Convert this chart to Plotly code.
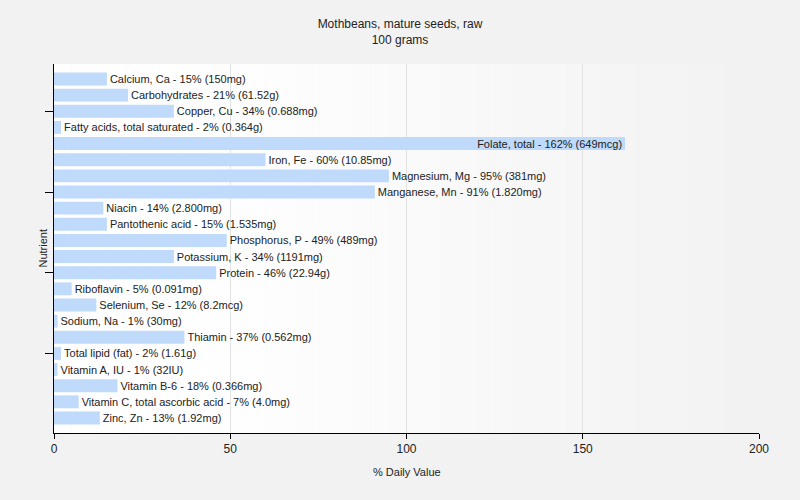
import plotly.graph_objects as go

nutrients = ["Calcium, Ca", "Carbohydrates", "Copper, Cu", "Fatty acids, total saturated",
             "Folate, total", "Iron, Fe", "Magnesium, Mg", "Manganese, Mn", "Niacin",
             "Pantothenic acid", "Phosphorus, P", "Potassium, K", "Protein", "Riboflavin",
             "Selenium, Se", "Sodium, Na", "Thiamin", "Total lipid (fat)", "Vitamin A, IU",
             "Vitamin B-6", "Vitamin C, total ascorbic acid", "Zinc, Zn"]
daily_pct = [15, 21, 34, 2, 162, 60, 95, 91, 14, 15, 49, 34, 46, 5, 12, 1, 37, 2, 1, 18, 7, 13]
amounts = ["150mg", "61.52g", "0.688mg", "0.364g", "649mcg", "10.85mg", "381mg", "1.820mg",
           "2.800mg", "1.535mg", "489mg", "1191mg", "22.94g", "0.091mg", "8.2mcg", "30mg",
           "0.562mg", "1.61g", "32IU", "0.366mg", "4.0mg", "1.92mg"]
x_ticks = [0, 50, 100, 150, 200]

labels = [f"{n} - {v}% ({a})" for n, v, a in zip(nutrients, daily_pct, amounts)]
positions = ["inside" if v > 150 else "outside" for v in daily_pct]

fig = go.Figure(go.Bar(
    y=nutrients, x=daily_pct, orientation="h",
    marker=dict(color="#bfdafb", line=dict(width=0)),
    width=0.8,
    text=labels, textposition=positions, insidetextanchor="end",
    textfont=dict(family="Liberation Sans, Arial", size=11, color="#222222"),
    constraintext="none", cliponaxis=False,
))

# plot-area gradient background (white to light grey)
n = 40
for i in range(n):
    t = i / (n - 1)
    g = int(round(255 - 13 * max(0, (t - 0.2) / 0.8)))
    fig.add_shape(type="rect", xref="x domain", yref="y domain",
                  x0=i / n, x1=(i + 1) / n, y0=0, y1=1,
                  fillcolor=f"rgb({g},{g},{g})", line=dict(width=0), layer="below")

tick_idx = [i for i in range(len(nutrients)) if i % 5 == 2]
fig.update_layout(
    width=800, height=500,
    margin=dict(l=54, r=41, t=64, b=67, autoexpand=False),
    paper_bgcolor="#f2f2f2", plot_bgcolor="rgba(0,0,0,0)",
    font=dict(family="Liberation Sans, Arial", size=12, color="#222222"),
    title=dict(text="Mothbeans, mature seeds, raw<br>100 grams", x=0.5, xanchor="center",
               y=0.944, yanchor="top", font=dict(size=12, color="#222222")),
    showlegend=False, bargap=0.2,
    xaxis=dict(range=[0, 200], tickvals=x_ticks, showgrid=True, gridcolor="#e2e2e2",
               showline=True, linecolor="black", ticks="outside", ticklen=5,
               tickcolor="black", zeroline=False, automargin=False,
               tickfont=dict(size=12)),
    yaxis=dict(categoryorder="array", categoryarray=nutrients, autorange=False,
               range=[len(nutrients) - 1 + 0.93, -0.93],
               tickmode="array", tickvals=[nutrients[i] for i in tick_idx],
               ticktext=["" for _ in tick_idx], automargin=False,
               showline=True, linecolor="black", ticks="outside", ticklen=8,
               tickcolor="black", showgrid=False),
    annotations=[
        dict(text="% Daily Value", xref="paper", yref="paper", x=0.5, y=-0.105,
             xanchor="center", yanchor="middle", showarrow=False, font=dict(size=11)),
        dict(text="Nutrient", xref="paper", yref="paper", x=-0.017, y=0.5, textangle=-90,
             xanchor="center", yanchor="middle", showarrow=False, font=dict(size=11)),
    ],
)

fig.write_html("out.html", config={"displayModeBar": False},
               post_script="document.body.style.margin='0';document.body.style.background='#f2f2f2';")
